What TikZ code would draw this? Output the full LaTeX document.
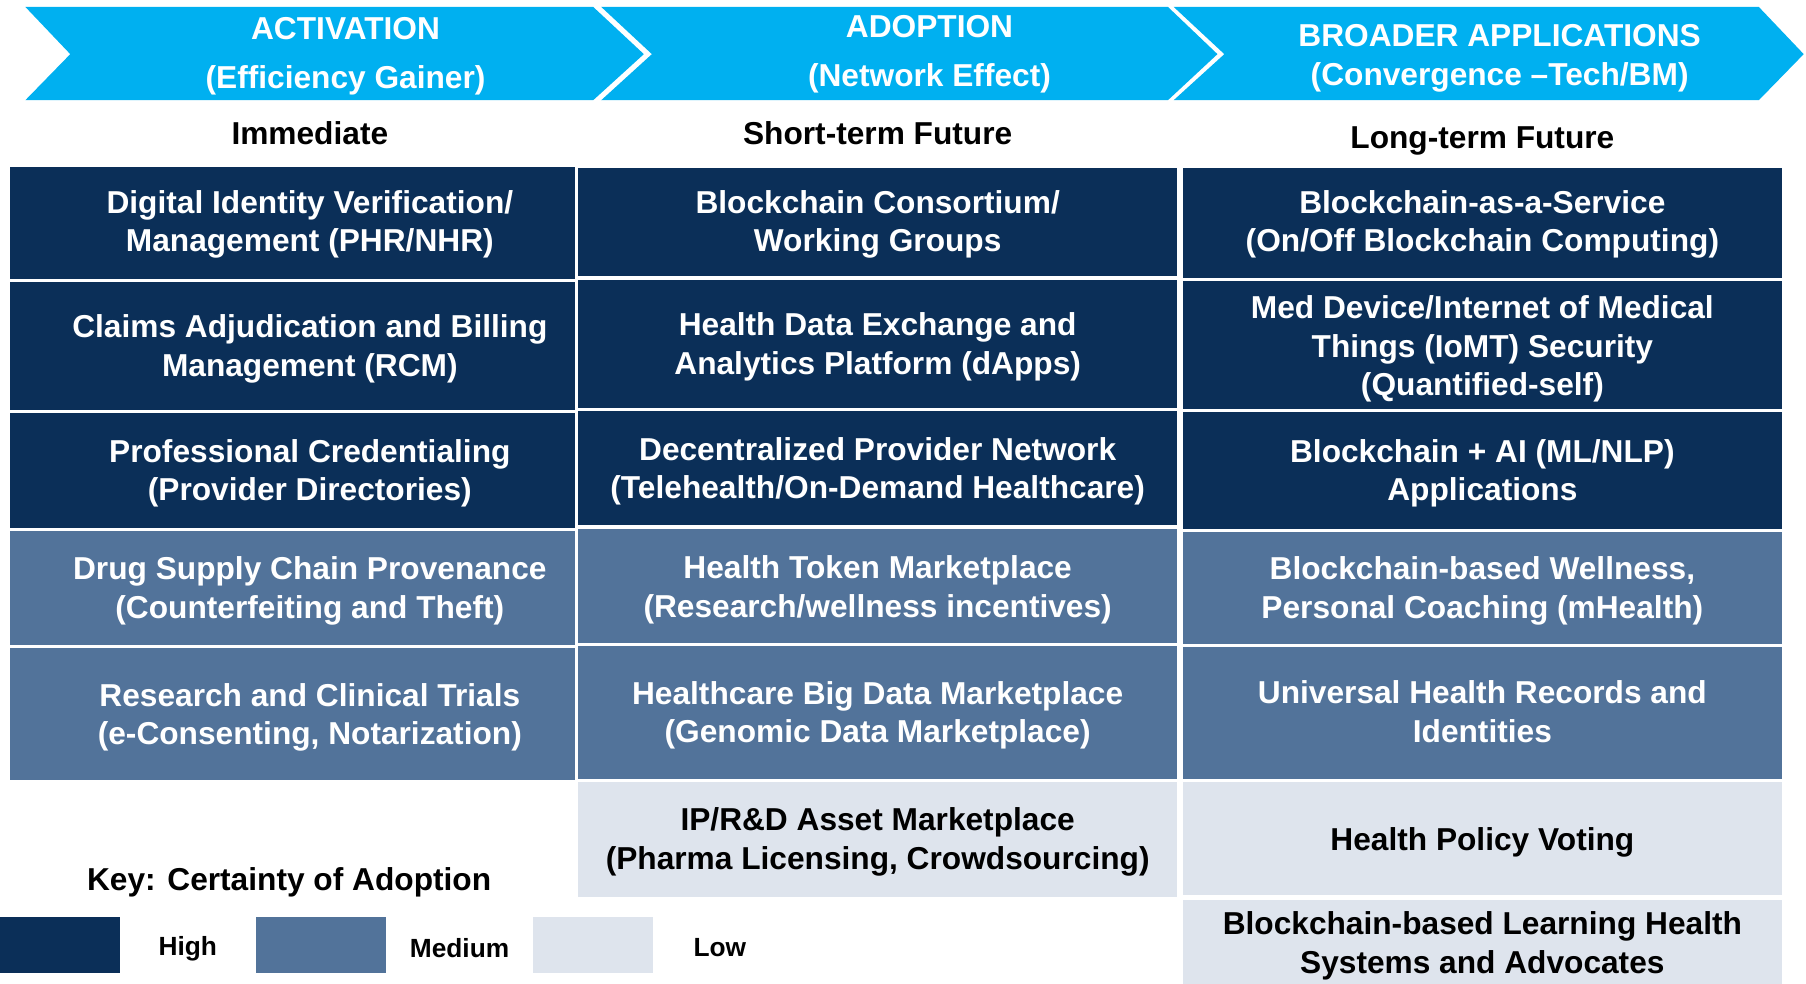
\documentclass[tikz,border=0pt]{standalone}
\usepackage{fontspec}
\setmainfont{Liberation Sans}
\usepackage{xcolor}
\definecolor{headcyan}{HTML}{00B0F0}
\definecolor{highblue}{HTML}{0B2F58}
\definecolor{midblue}{HTML}{52739A}
\definecolor{lowblue}{HTML}{DEE4ED}
\tikzset{
  celltext/.style={align=center, font=\bfseries\fontsize{16.5}{20}\selectfont, inner sep=0pt},
  hightext/.style={celltext, text=white},
  midtext/.style={celltext, text=white},
  lowtext/.style={celltext, text=black},
  headtext/.style={celltext, text=white},
  termtext/.style={celltext, text=black},
  keytext/.style={celltext, text=black, font=\bfseries\fontsize{13.7}{16}\selectfont}
}
\begin{document}
\begin{tikzpicture}[x=0.6pt, y=-0.6pt]
\useasboundingbox (0,0) rectangle (1568,854.3);

\fill [headcyan] (22,6) -- (515,6) -- (559,47) -- (515,87) -- (22,87) -- (61,47) -- cycle;
\fill [headcyan] (522,6) -- (1014,6) -- (1057,47) -- (1014,87) -- (522,87) -- (566,47) -- cycle;
\fill [headcyan] (1019,6) -- (1527,6) -- (1566,47) -- (1527,87) -- (1019,87) -- (1063,47) -- cycle;

\node [headtext] (act) at (300,49) {ACTIVATION\\[5.5pt](Efficiency Gainer)};
\node [headtext] (adopt) at (807,47) {ADOPTION\\[5.5pt](Network Effect)};
\node [headtext] (broad) at (1302,50.5) {BROADER APPLICATIONS\\(Convergence --Tech/BM)};

\node [termtext] (immediate) at (269,116) {Immediate};
\node [termtext] (short) at (762,116) {Short-term Future};
\node [termtext] (long) at (1287,122) {Long-term Future};

% activation column
\fill [highblue] (9,145) rectangle (499,242);
\fill [highblue] (9,245) rectangle (499,356);
\fill [highblue] (9,359) rectangle (499,458);
\fill [midblue] (9,461) rectangle (499,560);
\fill [midblue] (9,563) rectangle (499,677);

\node [hightext] (digital) at (269,195) {Digital Identity Verification/\\Management (PHR/NHR)};
\node [hightext] (claims) at (269,303) {Claims Adjudication and Billing\\Management (RCM)};
\node [hightext] (cred) at (269,411) {Professional Credentialing\\(Provider Directories)};
\node [midtext] (drug) at (269,513) {Drug Supply Chain Provenance\\(Counterfeiting and Theft)};
\node [midtext] (research) at (269,623) {Research and Clinical Trials\\(e-Consenting, Notarization)};

% adoption column
\fill [highblue] (502,146) rectangle (1022,240);
\fill [highblue] (502,243) rectangle (1022,354);
\fill [highblue] (502,357) rectangle (1022,456);
\fill [midblue] (502,459) rectangle (1022,558);
\fill [midblue] (502,561) rectangle (1022,676);
\fill [lowblue] (502,679) rectangle (1022,779);

\node [hightext] (consort) at (762,195) {Blockchain Consortium/\\Working Groups};
\node [hightext] (exchange) at (762,301) {Health Data Exchange and\\Analytics Platform (dApps)};
\node [hightext] (network) at (762,409) {Decentralized Provider Network\\(Telehealth/On-Demand Healthcare)};
\node [midtext] (token) at (762,512) {Health Token Marketplace\\(Research/wellness incentives)};
\node [midtext] (bigdata) at (762,621) {Healthcare Big Data Marketplace\\(Genomic Data Marketplace)};
\node [lowtext] (asset) at (762,731) {IP/R\&D Asset Marketplace\\(Pharma Licensing, Crowdsourcing)};

% broader applications column
\fill [highblue] (1027,146) rectangle (1547,241);
\fill [highblue] (1027,244) rectangle (1547,355);
\fill [highblue] (1027,358) rectangle (1547,459);
\fill [midblue] (1027,462) rectangle (1547,559);
\fill [midblue] (1027,562) rectangle (1547,676);
\fill [lowblue] (1027,679) rectangle (1547,777);
\fill [lowblue] (1027,781) rectangle (1547,860);

\node [hightext] (baas) at (1287,195) {Blockchain-as-a-Service\\(On/Off Blockchain Computing)};
\node [hightext] (iomt) at (1287,303) {Med Device/Internet of Medical\\Things (IoMT) Security\\(Quantified-self)};
\node [hightext] (ai) at (1287,411) {Blockchain + AI (ML/NLP)\\Applications};
\node [midtext] (wellness) at (1287,513) {Blockchain-based Wellness,\\Personal Coaching (mHealth)};
\node [midtext] (records) at (1287,618) {Universal Health Records and\\Identities};
\node [lowtext] (voting) at (1287,731) {Health Policy Voting};
\node [lowtext] (learning) at (1287,821) {Blockchain-based Learning Health\\Systems and Advocates};

% key
\node [termtext] (key) at (251,766) {Key: Certainty of Adoption};
\fill [highblue] (0,796) rectangle (104,845);
\fill [midblue] (222,796) rectangle (335,845);
\fill [lowblue] (463,796) rectangle (567,845);
\node [keytext] (high) at (163,824) {High};
\node [keytext] (medium) at (399,823) {Medium};
\node [keytext] (low) at (625,823) {Low};
\end{tikzpicture}
\end{document}
